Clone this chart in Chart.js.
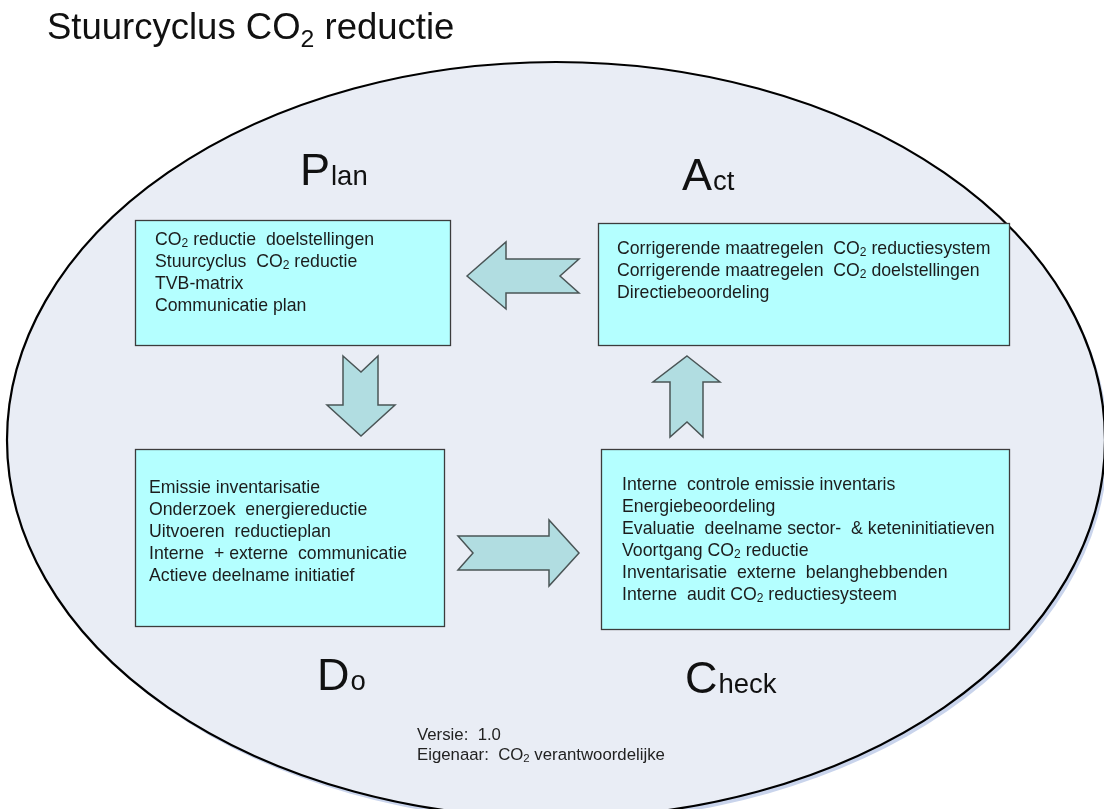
<!DOCTYPE html>
<html>
<head>
<meta charset="utf-8">
<script src="https://cdn.jsdelivr.net/npm/chart.js@4"></script>
<style>
html,body{margin:0;padding:0;background:#ffffff;}
canvas{display:block;}
</style>
</head>
<body>
<canvas id="c" width="1104" height="809"></canvas>
<script>
// ---- content (text) ----
const titleText = "Stuurcyclus CO_2 reductie";
const phaseBig = ["P", "A", "D", "C"];
const phaseSmall = ["lan", "ct", "o", "heck"];
const planItems = ["CO_2 reductie  doelstellingen", "Stuurcyclus  CO_2 reductie", "TVB-matrix", "Communicatie plan"];
const actItems = ["Corrigerende maatregelen  CO_2 reductiesystem", "Corrigerende maatregelen  CO_2 doelstellingen", "Directiebeoordeling"];
const doItems = ["Emissie inventarisatie", "Onderzoek  energiereductie", "Uitvoeren  reductieplan", "Interne  + externe  communicatie", "Actieve deelname initiatief"];
const checkItems = ["Interne  controle emissie inventaris", "Energiebeoordeling", "Evaluatie  deelname sector-  & keteninitiatieven", "Voortgang CO_2 reductie", "Inventarisatie  externe  belanghebbenden", "Interne  audit CO_2 reductiesysteem"];
const footerItems = ["Versie:  1.0", "Eigenaar:  CO_2 verantwoordelijke"];

// ---- layout (positions in a 1104 x 809 value space) ----
const layout = {
  ellipse: {cx: 556, cy: 440, rx: 549, ry: 378},
  title: {x: 47, y: 39, size: 36.5},
  boxes: [
    {rect: [135, 220, 450, 345], tx: 155, ty: 240, items: planItems},
    {rect: [598, 223, 1009, 345], tx: 617, ty: 249, items: actItems},
    {rect: [135, 449, 444, 626], tx: 149, ty: 488, items: doItems},
    {rect: [601, 449, 1009, 629], tx: 622, ty: 485, items: checkItems}
  ],
  lineGap: 22,
  textSize: 17.7,
  phases: [[300, 185], [682, 190], [317, 690], [685, 693]],
  phaseBigSize: 45, phaseSmallSize: 27.5,
  footer: {x: 417, y: 735, gap: 20, size: 16.8},
  arrows: [
    [[343,356],[361,372],[378,356],[378,405],[395,405],[361,436],[327,405],[343,405]],
    [[467,276],[506,242],[506,259],[579,259],[560,276],[579,293],[506,293],[506,309]],
    [[687,356],[720,382],[703,382],[703,437],[687,422],[670,437],[670,382],[653,382]],
    [[458,536],[549,536],[549,520],[579,553],[549,586],[549,570],[458,570],[473,553]]
  ]
};

const FONT = '"Liberation Sans", Arial, Helvetica, sans-serif';

function drawRich(ctx, text, x, y, size, baseline) {
  ctx.textBaseline = baseline || 'middle';
  ctx.textAlign = 'left';
  const parts = text.split('_2');
  let cx = x;
  parts.forEach((p, i) => {
    ctx.font = size + 'px ' + FONT;
    ctx.fillText(p, cx, y);
    cx += ctx.measureText(p).width;
    if (i < parts.length - 1) {
      const s = size * 0.68;
      ctx.font = s + 'px ' + FONT;
      ctx.fillText('2', cx, y + size * 0.22);
      cx += ctx.measureText('2').width;
    }
  });
}

const diagramPlugin = {
  id: 'diagram',
  beforeDatasetsDraw(chart) {
    const ctx = chart.ctx;
    const X = v => chart.scales.x.getPixelForValue(v);
    const Y = v => chart.scales.y.getPixelForValue(v);
    ctx.save();
    // ellipse shadow
    const e = layout.ellipse;
    const ecx = X(e.cx), ecy = Y(e.cy);
    const erx = Math.abs(X(e.cx + e.rx) - ecx), ery = Math.abs(Y(e.cy + e.ry) - ecy);
    ctx.beginPath();
    ctx.ellipse(ecx + 3, ecy + 4, erx, ery, 0, 0, Math.PI * 2);
    ctx.fillStyle = '#c9d4ec';
    ctx.fill();
    ctx.beginPath();
    ctx.ellipse(ecx, ecy, erx, ery, 0, 0, Math.PI * 2);
    ctx.fillStyle = '#e9edf5';
    ctx.fill();
    ctx.lineWidth = 2.2;
    ctx.strokeStyle = '#000000';
    ctx.stroke();

    // title
    ctx.fillStyle = '#111111';
    drawRich(ctx, titleText, X(layout.title.x), Y(layout.title.y), layout.title.size, 'alphabetic');

    // boxes
    layout.boxes.forEach(b => {
      const [x1, y1, x2, y2] = b.rect;
      ctx.fillStyle = '#b4ffff';
      ctx.fillRect(X(x1), Y(y1), X(x2) - X(x1), Y(y2) - Y(y1));
      ctx.lineWidth = 1.3;
      ctx.strokeStyle = '#3c3c3c';
      ctx.strokeRect(X(x1) + 0.5, Y(y1) + 0.5, X(x2) - X(x1), Y(y2) - Y(y1));
      ctx.fillStyle = '#1c1c1c';
      b.items.forEach((t, i) => {
        drawRich(ctx, t, X(b.tx), Y(b.ty + i * layout.lineGap), layout.textSize, 'middle');
      });
    });

    // arrows
    layout.arrows.forEach(a => {
      ctx.beginPath();
      a.forEach((p, i) => {
        if (i === 0) ctx.moveTo(X(p[0]), Y(p[1])); else ctx.lineTo(X(p[0]), Y(p[1]));
      });
      ctx.closePath();
      ctx.fillStyle = '#b1dde1';
      ctx.fill();
      ctx.lineWidth = 1.5;
      ctx.strokeStyle = '#4a5556';
      ctx.stroke();
    });

    // phase labels
    ctx.fillStyle = '#111111';
    layout.phases.forEach((p, i) => {
      ctx.textBaseline = 'alphabetic';
      ctx.textAlign = 'left';
      ctx.font = layout.phaseBigSize + 'px ' + FONT;
      ctx.fillText(phaseBig[i], X(p[0]), Y(p[1]));
      const w = ctx.measureText(phaseBig[i]).width;
      ctx.font = layout.phaseSmallSize + 'px ' + FONT;
      ctx.fillText(phaseSmall[i], X(p[0]) + w + 1, Y(p[1]));
    });

    // footer
    ctx.fillStyle = '#222222';
    footerItems.forEach((t, i) => {
      drawRich(ctx, t, X(layout.footer.x), Y(layout.footer.y + i * layout.footer.gap), layout.footer.size, 'middle');
    });
    ctx.restore();
  }
};

new Chart(document.getElementById('c'), {
  type: 'scatter',
  data: {datasets: [{data: [], pointRadius: 0}]},
  options: {
    responsive: false,
    animation: false,
    devicePixelRatio: 1,
    layout: {padding: 0},
    plugins: {legend: {display: false}, tooltip: {enabled: false}, title: {display: false}},
    scales: {
      x: {type: 'linear', min: 0, max: 1104, display: false},
      y: {type: 'linear', min: 0, max: 809, reverse: true, display: false}
    }
  },
  plugins: [diagramPlugin]
});
</script>
</body>
</html>
